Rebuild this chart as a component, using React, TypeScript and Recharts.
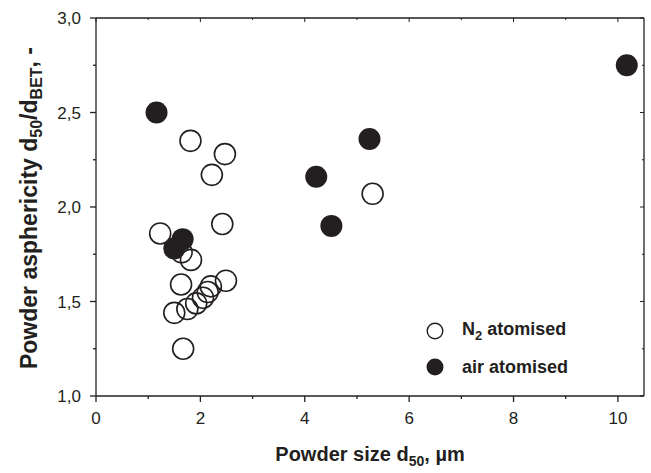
import { ScatterChart, Scatter, XAxis, YAxis } from "recharts";

// N2 atomised powders (open circles)
const n2Size = [1.81, 2.47, 2.22, 2.42, 1.23, 1.64, 1.82, 1.63, 2.49, 1.5, 1.75, 1.92, 2.05, 2.14, 2.2, 1.67, 5.3];
const n2Asph = [2.35, 2.28, 2.17, 1.91, 1.86, 1.76, 1.72, 1.59, 1.61, 1.44, 1.46, 1.49, 1.52, 1.55, 1.58, 1.25, 2.07];

// air atomised powders (filled circles)
const airSize = [1.16, 1.66, 1.5, 4.22, 4.51, 5.24, 10.17];
const airAsph = [2.5, 1.83, 1.78, 2.16, 1.9, 2.36, 2.75];

const xTicks = [0, 1, 2, 3, 4, 5, 6, 7, 8, 9, 10];
const yTicks = [1, 1.25, 1.5, 1.75, 2, 2.25, 2.5, 2.75, 3];

const INK = "#231f20";
const FONT = "'Liberation Sans', Arial, sans-serif";

const n2Data = n2Size.map((x, i) => ({ x, y: n2Asph[i] }));
const airData = airSize.map((x, i) => ({ x, y: airAsph[i] }));

const isMajorX = (v: number) => v % 2 === 0;
const isMajorY = (v: number) => Math.abs(v * 2 - Math.round(v * 2)) < 1e-6;

function BottomTick(props: any) {
  const { x, y, payload } = props;
  const v = payload.value;
  const major = isMajorX(v);
  return (
    <g>
      <line x1={x} x2={x} y1={y} y2={y + (major ? 6 : 3)} stroke={INK} strokeWidth={1.3} />
      {major && (
        <text x={x} y={y + 28} textAnchor="middle" fontSize={17} fill={INK} fontFamily={FONT}>
          {v}
        </text>
      )}
    </g>
  );
}

function LeftTick(props: any) {
  const { x, y, payload } = props;
  const v = payload.value;
  const major = isMajorY(v);
  return (
    <g>
      <line x1={x - (major ? 6 : 3)} x2={x} y1={y} y2={y} stroke={INK} strokeWidth={1.3} />
      {major && (
        <text x={x - 15} y={y + 6} textAnchor="end" fontSize={17} fill={INK} fontFamily={FONT}>
          {v.toFixed(1).replace(".", ",")}
        </text>
      )}
    </g>
  );
}

function TopTick(props: any) {
  const { x, y, payload } = props;
  const major = isMajorX(payload.value);
  return <line x1={x} x2={x} y1={y} y2={y + (major ? 4 : 2)} stroke={INK} strokeWidth={1} />;
}

function RightTick(props: any) {
  const { x, y, payload } = props;
  const major = isMajorY(payload.value);
  return <line x1={x - (major ? 4 : 2)} x2={x} y1={y} y2={y} stroke={INK} strokeWidth={1} />;
}

function OpenDot(props: any) {
  const { cx, cy } = props;
  return <circle cx={cx} cy={cy} r={10.5} fill="white" fillOpacity={0} stroke={INK} strokeWidth={1.6} />;
}

function FilledDot(props: any) {
  const { cx, cy } = props;
  return <circle cx={cx} cy={cy} r={11} fill={INK} />;
}

function XTitle(props: any) {
  const vb = props.viewBox;
  return (
    <text x={vb.x + vb.width / 2} y={vb.y + 65} textAnchor="middle" fontSize={20} fontWeight="bold" fill={INK} fontFamily={FONT}>
      Powder size d
      <tspan fontSize={14} dy={5}>50</tspan>
      <tspan dy={-5}>, µm</tspan>
    </text>
  );
}

function YTitle(props: any) {
  const vb = props.viewBox;
  const cx = vb.x + 37;
  const cy = vb.y + vb.height / 2 + 1;
  return (
    <text
      x={cx}
      y={cy}
      transform={`rotate(-90 ${cx} ${cy})`}
      textAnchor="middle"
      fontSize={23}
      fontWeight="bold"
      fill={INK}
      fontFamily={FONT}
    >
      Powder asphericity d
      <tspan fontSize={16} dy={5}>50</tspan>
      <tspan dy={-5}>/d</tspan>
      <tspan fontSize={16} dy={5}>BET</tspan>
      <tspan dy={-5}>, -</tspan>
    </text>
  );
}

function LegendBox() {
  const row = { display: "flex", alignItems: "center", height: 36 } as const;
  const txt = { fontFamily: FONT, fontWeight: "bold", fontSize: 18, color: INK, marginLeft: 18 } as const;
  return (
    <div style={{ position: "absolute", left: 426, top: 313 }}>
      <div style={row}>
        <svg width={18} height={18}>
          <circle cx={9} cy={9} r={7.8} fill="white" stroke={INK} strokeWidth={1.4} />
        </svg>
        <span style={txt}>
          N<sub style={{ fontSize: 13 }}>2</sub> atomised
        </span>
      </div>
      <div style={row}>
        <svg width={18} height={18}>
          <circle cx={9} cy={9} r={8.5} fill={INK} />
        </svg>
        <span style={txt}>air atomised</span>
      </div>
    </div>
  );
}

export default function App() {
  return (
    <div style={{ position: "absolute", left: 0, top: 0, width: 651, height: 473, background: "white" }}>
      <ScatterChart width={651} height={473} margin={{ top: 18, right: 7, bottom: 0, left: 0 }}>
        <XAxis
          xAxisId="b"
          type="number"
          dataKey="x"
          domain={[0, 10.5]}
          ticks={xTicks}
          interval={0}
          allowDataOverflow
          height={77}
          tickSize={0}
          tickMargin={0}
          tickLine={false}
          tick={<BottomTick />}
          axisLine={{ stroke: INK, strokeWidth: 1.3 }}
          label={<XTitle />}
        />
        <XAxis
          xAxisId="t"
          orientation="top"
          type="number"
          dataKey="x"
          domain={[0, 10.5]}
          ticks={xTicks}
          interval={0}
          allowDataOverflow
          mirror
          tickSize={0}
          tickMargin={0}
          tickLine={false}
          tick={<TopTick />}
          axisLine={{ stroke: INK, strokeWidth: 1.3 }}
        />
        <YAxis
          yAxisId="l"
          type="number"
          dataKey="y"
          domain={[1, 3]}
          ticks={yTicks}
          interval={0}
          allowDataOverflow
          width={96}
          tickSize={0}
          tickMargin={0}
          tickLine={false}
          tick={<LeftTick />}
          axisLine={{ stroke: INK, strokeWidth: 1.3 }}
          label={<YTitle />}
        />
        <YAxis
          yAxisId="r"
          orientation="right"
          type="number"
          dataKey="y"
          domain={[1, 3]}
          ticks={yTicks}
          interval={0}
          allowDataOverflow
          mirror
          tickSize={0}
          tickMargin={0}
          tickLine={false}
          tick={<RightTick />}
          axisLine={{ stroke: INK, strokeWidth: 1.3 }}
        />
        <Scatter data={n2Data} xAxisId="b" yAxisId="l" shape={<OpenDot />} isAnimationActive={false} />
        <Scatter data={airData} xAxisId="b" yAxisId="l" shape={<FilledDot />} isAnimationActive={false} />
      </ScatterChart>
      <LegendBox />
    </div>
  );
}
